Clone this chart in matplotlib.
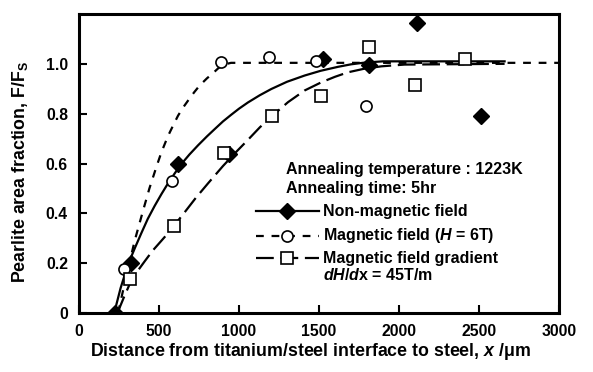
import matplotlib
matplotlib.use("Agg")
import matplotlib.pyplot as plt

plt.rcParams['font.family'] = ['Liberation Sans', 'DejaVu Sans']
plt.rcParams['font.weight'] = 'bold'
plt.rcParams['mathtext.fontset'] = 'custom'
plt.rcParams['mathtext.rm'] = 'Liberation Sans:bold'
plt.rcParams['mathtext.it'] = 'Liberation Sans:bold:italic'
plt.rcParams['mathtext.bf'] = 'Liberation Sans:bold'

# ---- data ----
nonmag_x = [225, 325, 619, 940, 1525, 1810, 2115, 2510]
nonmag_y = [0.0, 0.20, 0.60, 0.64, 1.02, 0.995, 1.165, 0.79]

mag_x = [281, 581, 885, 1185, 1483, 1791]
mag_y = [0.175, 0.53, 1.007, 1.027, 1.013, 0.832]

grad_x = [316, 594, 906, 1206, 1510, 1810, 2102, 2414]
grad_y = [0.136, 0.348, 0.644, 0.789, 0.870, 1.067, 0.915, 1.02]

# fitted curves as drawn
nonmag_fit_x = [220, 260, 306, 350, 390, 430, 473, 515, 556, 600, 640, 690, 744, 800, 848, 900, 952,
                1000, 1056, 1130, 1202, 1300, 1410, 1510, 1619, 1700, 1786, 1900, 2660]
nonmag_fit_y = [0.0, 0.10, 0.194, 0.262, 0.321, 0.378, 0.43, 0.477, 0.52, 0.562, 0.598, 0.636,
                0.673, 0.709, 0.738, 0.769, 0.796, 0.82, 0.845, 0.874, 0.899, 0.928, 0.953, 0.972,
                0.988, 0.998, 1.005, 1.01, 1.01]

mag_fit_x = [244, 270, 300, 348, 400, 440, 483, 515, 556, 590, 619, 650, 681, 720, 754, 800, 838,
             870, 900, 950, 3000]
mag_fit_y = [0.0, 0.075, 0.16, 0.29, 0.41, 0.50, 0.585, 0.645, 0.71, 0.755, 0.792, 0.824, 0.852,
             0.886, 0.913, 0.942, 0.963, 0.982, 0.996, 1.004, 1.004]

grad_fit_x = [240, 280, 316, 360, 410, 460, 515, 560, 600, 660, 730, 806, 900, 980, 1056, 1130,
              1200, 1306, 1410, 1515, 1600, 1681, 1780, 1890, 2035, 2660]
grad_fit_y = [0.0, 0.062, 0.115, 0.163, 0.207, 0.25, 0.29, 0.323, 0.355, 0.404, 0.462, 0.52,
              0.59, 0.645, 0.695, 0.745, 0.787, 0.846, 0.893, 0.926, 0.948, 0.966, 0.98, 0.99,
              0.997, 1.0]

xticks = [0, 500, 1000, 1500, 2000, 2500, 3000]
yticks = [0, 0.2, 0.4, 0.6, 0.8, 1.0]
ytick_labels = ['0', '0.2', '0.4', '0.6', '0.8', '1.0']

fig = plt.figure(figsize=(5.93, 3.72), dpi=100)
ax = fig.add_axes([79/593, 59/372, 480/593, 299/372])

lw = 1.6
ax.plot(nonmag_fit_x, nonmag_fit_y, color='black', lw=lw, zorder=2)
ax.plot(mag_fit_x, mag_fit_y, color='black', lw=lw, dashes=(3.5, 3.5), zorder=2)
ax.plot(grad_fit_x, grad_fit_y, color='black', lw=lw, dashes=(8, 3), zorder=2)

ax.plot(nonmag_x, nonmag_y, ls='none', marker='D', ms=8.5, mfc='black', mec='black', zorder=3)
ax.plot(mag_x, mag_y, ls='none', marker='o', ms=8, mfc='white', mec='black', mew=1.2, zorder=4)
ax.plot(grad_x, grad_y, ls='none', marker='s', ms=8, mfc='white', mec='black', mew=1.2, zorder=5)

ax.set_xlim(0, 3000)
ax.set_ylim(0, 1.2)
ax.set_xticks(xticks)
ax.set_yticks(yticks)
ax.set_yticklabels(ytick_labels)
ax.tick_params(direction='in', length=6, width=1.5, labelsize=11.3, pad=8)
for lab in ax.get_xticklabels() + ax.get_yticklabels():
    lab.set_fontweight('bold')
for s in ax.spines.values():
    s.set_linewidth(2.2)

ax.set_xlabel(r'Distance from titanium/steel interface to steel, $x$ /μm',
              fontsize=12.8, fontweight='bold')
ax.xaxis.set_label_coords(0.483, -0.095)
ax.set_ylabel(r'Pearlite area fraction, F/F$_\mathrm{S}$', fontsize=12.8,
              fontweight='bold')
ax.yaxis.set_label_coords(-0.102, 0.47)

# annotation / legend block
fs = 11.5
ax.text(1294, 0.577, 'Annealing temperature : 1223K', fontsize=fs,
        fontweight='bold', va='center', ha='left')
ax.text(1294, 0.498, 'Annealing time: 5hr', fontsize=fs,
        fontweight='bold', va='center', ha='left')

leg_y = [0.408, 0.310, 0.22]
ax.plot([1106, 1500], [leg_y[0]] * 2, color='black', lw=lw)
ax.plot([1300], [leg_y[0]], marker='D', ms=8.5, color='black')
ax.plot([1106, 1500], [leg_y[1]] * 2, color='black', lw=lw, dashes=(3.5, 3.5))
ax.plot([1300], [leg_y[1]], marker='o', ms=8, mfc='white', mec='black', mew=1.2)
ax.plot([1106, 1500], [leg_y[2]] * 2, color='black', lw=lw, dashes=(8, 3))
ax.plot([1300], [leg_y[2]], marker='s', ms=8, mfc='white', mec='black', mew=1.2)

ax.text(1525, leg_y[0], 'Non-magnetic field', fontsize=fs, fontweight='bold', va='center')
ax.text(1525, leg_y[1], r'Magnetic field ($H$ = 6T)', fontsize=fs, fontweight='bold', va='center')
ax.text(1525, leg_y[2], 'Magnetic field gradient', fontsize=fs, fontweight='bold', va='center')
ax.text(1525, 0.153, r'$dH$/$d$x = 45T/m', fontsize=fs, fontweight='bold', va='center')

fig.savefig('out.png', dpi=100)
